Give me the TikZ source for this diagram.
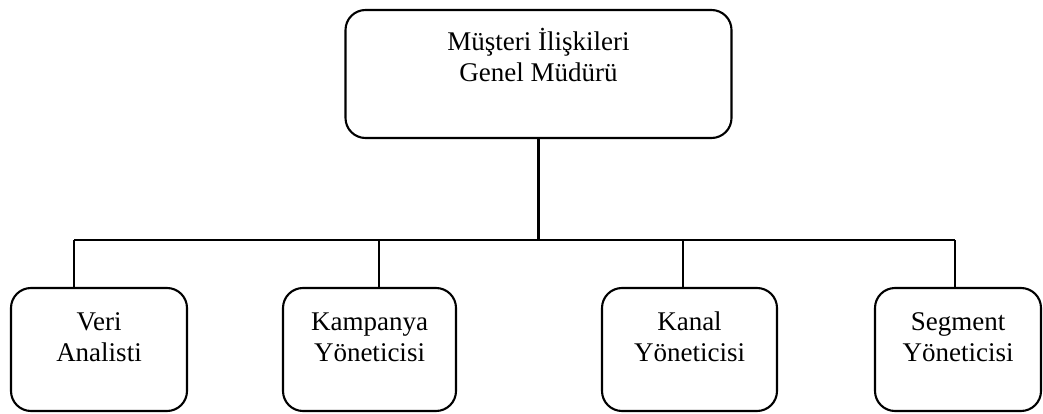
\documentclass[tikz,border=0pt]{standalone}
\usepackage{fontspec}
\setmainfont{Liberation Serif}
\begin{document}
\begin{tikzpicture}[x=1pt,y=-1pt,
  box/.style={draw, line width=2.1pt, rounded corners=20pt, inner sep=0pt},
  lbl/.style={font=\fontsize{27}{31}\selectfont, align=center, anchor=base, inner sep=0pt},
  link/.style={line width=2.1pt}]
\useasboundingbox (0,0) rectangle (1043,414);

% head of the department
\node[box, minimum width=386pt, minimum height=128pt] (gm) at (538.5,74) {};
\node[lbl] (gmt) at (538.5,82) {Müşteri İlişkileri\\Genel Müdürü};

% reporting units
\node[box, minimum width=176pt, minimum height=123pt] (va) at (99,349.5) {};
\node[box, minimum width=173pt, minimum height=123pt] (ky) at (369.5,349.5) {};
\node[box, minimum width=175pt, minimum height=123pt] (kn) at (689.5,349.5) {};
\node[box, minimum width=166pt, minimum height=123pt] (sy) at (958,349.5) {};

\node[lbl] (vat) at (99,361) {Veri\\Analisti};
\node[lbl] (kyt) at (369.5,361) {Kampanya\\Yöneticisi};
\node[lbl] (knt) at (689.5,361) {Kanal\\Yöneticisi};
\node[lbl] (syt) at (958,361) {Segment\\Yöneticisi};

% connector tree
\coordinate (bar) at (538.5,240);
\coordinate (j1) at (74,240);
\coordinate (j2) at (379,240);
\coordinate (j3) at (683,240);
\coordinate (j4) at (955,240);

\draw[link] (gm.south) -- (bar);
\draw[link] (j1) -- (j4);
\draw[link] (j1) -- (j1 |- va.north);
\draw[link] (j2) -- (j2 |- ky.north);
\draw[link] (j3) -- (j3 |- kn.north);
\draw[link] (j4) -- (j4 |- sy.north);
\end{tikzpicture}
\end{document}
